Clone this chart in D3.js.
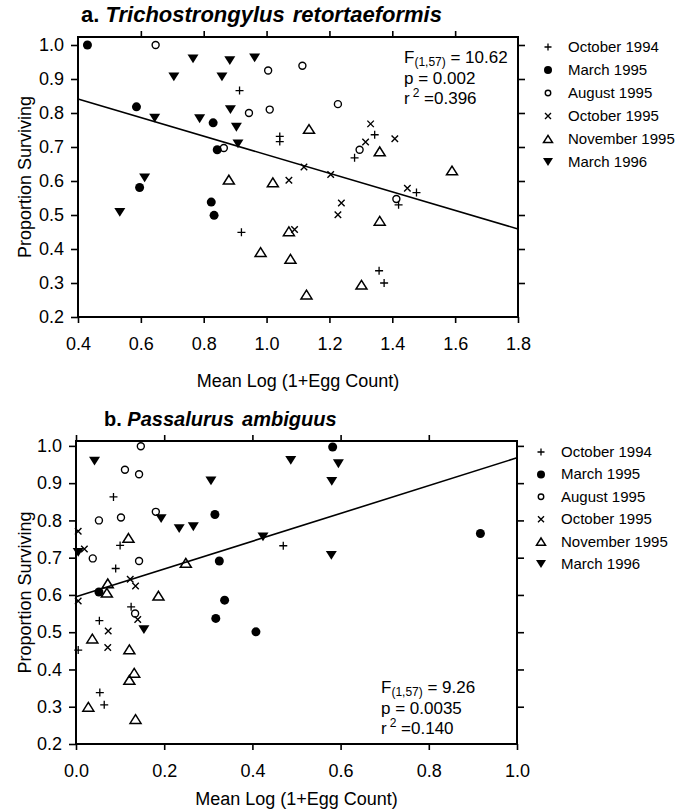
<!DOCTYPE html>
<html>
<head>
<meta charset="utf-8">
<script src="https://cdn.jsdelivr.net/npm/d3@7"></script>
<style>
  body { margin: 0; background: #fff; }
  svg { display: block; font-family: "Liberation Sans", Arial, sans-serif; }
</style>
</head>
<body>
<svg id="chart" width="690" height="809"></svg>
<script>
// ---- data: panel a (Trichostrongylus retortaeformis) ----
var aOct94 = [[0.914, 0.866], [1.042, 0.731], [1.042, 0.716], [1.344, 0.736], [1.28, 0.668],
    [1.477, 0.566], [1.42, 0.53], [0.92, 0.449], [1.358, 0.336], [1.374, 0.30]];
var aMar95 = [[0.43, 1.0], [0.586, 0.818], [0.83, 0.771], [0.843, 0.692], [0.596, 0.581],
    [0.824, 0.538], [0.833, 0.499]];
var aAug95 = [[0.647, 1.0], [1.005, 0.925], [1.114, 0.939], [0.944, 0.80], [1.01, 0.81],
    [1.227, 0.826], [0.864, 0.697], [1.296, 0.692], [1.413, 0.547]];
var aOct95 = [[1.331, 0.768], [1.315, 0.715], [1.408, 0.724], [1.119, 0.641], [1.204, 0.619],
    [1.071, 0.602], [1.448, 0.579], [1.238, 0.535], [1.227, 0.501], [1.089, 0.457]];
var aNov95 = [[1.135, 0.753], [1.36, 0.687], [1.59, 0.631], [0.88, 0.604], [1.02, 0.596],
    [0.981, 0.391], [1.071, 0.452], [1.076, 0.371], [1.36, 0.483], [1.302, 0.295], [1.127, 0.266]];
var aMar96 = [[0.766, 0.959], [0.883, 0.954], [0.962, 0.962], [0.705, 0.906], [0.858, 0.906],
    [0.644, 0.785], [0.787, 0.783], [0.885, 0.81], [0.904, 0.758], [0.909, 0.709],
    [0.612, 0.609], [0.533, 0.508]];
var aFit = [[0.4, 0.841], [1.8, 0.459]];
var aStats = ['10.62', '0.002', '0.396'];

// ---- data: panel b (Passalurus ambiguus) ----
var bOct94 = [[0.085, 0.863], [0.10, 0.733], [0.09, 0.671], [0.125, 0.568], [0.053, 0.531],
    [0.005, 0.452], [0.054, 0.338], [0.064, 0.305], [0.47, 0.732]];
var bMar95 = [[0.582, 0.997], [0.315, 0.816], [0.325, 0.691], [0.917, 0.765], [0.337, 0.586],
    [0.317, 0.537], [0.408, 0.501], [0.052, 0.608]];
var bAug95 = [[0.147, 0.999], [0.111, 0.936], [0.143, 0.924], [0.181, 0.823], [0.052, 0.80],
    [0.102, 0.808], [0.038, 0.698], [0.143, 0.691], [0.134, 0.55]];
var bOct95 = [[0.005, 0.771], [0.019, 0.723], [0.123, 0.642], [0.135, 0.624], [0.005, 0.584],
    [0.14, 0.534], [0.073, 0.503], [0.072, 0.459]];
var bNov95 = [[0.119, 0.753], [0.249, 0.686], [0.072, 0.631], [0.07, 0.606], [0.187, 0.598],
    [0.037, 0.483], [0.121, 0.454], [0.132, 0.391], [0.121, 0.372], [0.028, 0.30], [0.135, 0.267]];
var bMar96 = [[0.042, 0.959], [0.306, 0.906], [0.193, 0.805], [0.234, 0.778], [0.266, 0.783],
    [0.424, 0.756], [0.487, 0.961], [0.595, 0.952], [0.58, 0.905], [0.579, 0.706],
    [0.154, 0.507], [0.005, 0.714]];
var bFit = [[0.0, 0.595], [1.0, 0.968]];
var bStats = ['9.26', '0.0035', '0.140'];

var seriesNames = ['October 1994', 'March 1995', 'August 1995', 'October 1995', 'November 1995', 'March 1996'];
var yTicks = [0.2, 0.3, 0.4, 0.5, 0.6, 0.7, 0.8, 0.9, 1.0];
var aXTicks = [0.4, 0.6, 0.8, 1.0, 1.2, 1.4, 1.6, 1.8];
var bXTicks = [0.0, 0.2, 0.4, 0.6, 0.8, 1.0];

// custom marker shapes for d3.symbol; size = (full width)^2
var symPlus = {draw: function(c, size) {
    var r = Math.sqrt(size) / 2;
    c.moveTo(-r, 0); c.lineTo(r, 0);
    c.moveTo(0, -r); c.lineTo(0, r);
}};
var symX = {draw: function(c, size) {
    var r = Math.sqrt(size) / 2;
    c.moveTo(-r, -r); c.lineTo(r, r);
    c.moveTo(-r, r); c.lineTo(r, -r);
}};
var symTriUp = {draw: function(c, size) {
    var w = Math.sqrt(size) / 2, h = w * 0.8;
    c.moveTo(0, -h); c.lineTo(w, h); c.lineTo(-w, h); c.closePath();
}};
var symTriDown = {draw: function(c, size) {
    var w = Math.sqrt(size) / 2, h = w * 0.8;
    c.moveTo(-w, -h); c.lineTo(w, -h); c.lineTo(0, h); c.closePath();
}};

// marker style for each series, in legend order
var markers = [
    {type: symPlus, w: 8, lw: 7, fill: 'none', sw: 1.3},
    {type: d3.symbolCircle, w: 9, lw: 8, fill: '#000', sw: 0},
    {type: d3.symbolCircle, w: 7, lw: 5.5, fill: 'none', sw: 1.4},
    {type: symX, w: 6.5, lw: 6, fill: 'none', sw: 1.4},
    {type: symTriUp, w: 11, lw: 9, fill: 'none', sw: 1.5},
    {type: symTriDown, w: 11, lw: 10, fill: '#000', sw: 0}
];

function symSize(m, w) {
    // d3.symbolCircle uses area, the custom ones use width^2
    return m.type === d3.symbolCircle ? Math.PI * w * w / 4 : w * w;
}

function drawPanel(svg, p) {
    var x = d3.scaleLinear().domain(p.xDomain).range([p.left, p.right]);
    var y = d3.scaleLinear().domain(p.yDomain).range([p.bottom, p.top]);
    var g = svg.append('g');
    var fmt = d3.format('.1f');

    // frame
    g.append('rect')
        .attr('x', p.left).attr('y', p.top)
        .attr('width', p.right - p.left).attr('height', p.bottom - p.top)
        .attr('fill', 'none').attr('stroke', '#000').attr('stroke-width', 2);

    var axB = g.append('g').attr('transform', 'translate(0,' + p.bottom + ')')
        .call(d3.axisBottom(x).tickValues(p.xTicks).tickFormat(fmt).tickSize(6).tickSizeOuter(0).tickPadding(14));
    var axL = g.append('g').attr('transform', 'translate(' + p.left + ',0)')
        .call(d3.axisLeft(y).tickValues(yTicks).tickFormat(fmt).tickSize(7).tickSizeOuter(0).tickPadding(7));
    var axT = g.append('g').attr('transform', 'translate(0,' + p.top + ')')
        .call(d3.axisTop(x).tickValues(p.topTicks).tickFormat('').tickSize(6).tickSizeOuter(0));
    var axR = g.append('g').attr('transform', 'translate(' + p.right + ',0)')
        .call(d3.axisRight(y).tickValues(yTicks.slice(1)).tickFormat('').tickSize(7).tickSizeOuter(0));

    [axB, axL, axT, axR].forEach(function(a) {
        a.select('.domain').remove();
        a.selectAll('.tick line').attr('stroke', '#000').attr('stroke-width', 1.6);
        a.selectAll('.tick text').attr('fill', '#000').attr('font-size', 18);
    });

    // axis titles
    g.append('text')
        .attr('x', (p.left + p.right) / 2).attr('y', p.xTitleY)
        .attr('text-anchor', 'middle').attr('font-size', 18)
        .text('Mean Log (1+Egg Count)');
    g.append('text')
        .attr('transform', 'translate(31,' + ((p.top + p.bottom) / 2) + ') rotate(-90)')
        .attr('text-anchor', 'middle').attr('font-size', 18)
        .text('Proportion Surviving');

    // panel title
    var t = g.append('text')
        .attr('x', p.titleX).attr('y', p.top - 15)
        .attr('font-size', p.titleSize).attr('font-weight', 'bold');
    t.append('tspan').text(p.letter + '. ');
    t.append('tspan').attr('font-style', 'italic').text(p.genus);
    t.append('tspan').attr('font-style', 'italic').attr('dx', 8).text(p.species);

    // regression line
    g.append('path')
        .datum(p.fit)
        .attr('d', d3.line().x(function(d) { return x(d[0]); }).y(function(d) { return y(d[1]); }))
        .attr('fill', 'none').attr('stroke', '#000').attr('stroke-width', 1.6);

    // points
    p.series.forEach(function(pts, i) {
        var m = markers[i];
        g.selectAll(null)
            .data(pts)
          .enter().append('path')
            .attr('transform', function(d) { return 'translate(' + x(d[0]) + ',' + y(d[1]) + ')'; })
            .attr('d', d3.symbol().type(m.type).size(symSize(m, m.w)))
            .attr('fill', m.fill)
            .attr('stroke', m.sw ? '#000' : 'none')
            .attr('stroke-width', m.sw);
    });

    // statistics
    var s = g.append('g').attr('font-size', 17);
    var f = s.append('text').attr('x', p.statX).attr('y', p.statY);
    f.append('tspan').text('F');
    f.append('tspan').attr('font-size', 12).attr('dy', 3).text('(1,57)');
    f.append('tspan').attr('dy', -3).text(' = ' + p.stats[0]);
    s.append('text').attr('x', p.statX).attr('y', p.statY + 20.5).text('p = ' + p.stats[1]);
    var r = s.append('text').attr('x', p.statX).attr('y', p.statY + 41);
    r.append('tspan').text('r');
    r.append('tspan').attr('font-size', 12).attr('dx', 3).attr('dy', -7).text('2');
    r.append('tspan').attr('dy', 7).text(' =' + p.stats[2]);

    // legend
    var lg = g.append('g').attr('transform', 'translate(' + p.legendX + ',' + p.legendY + ')');
    seriesNames.forEach(function(name, i) {
        var m = markers[i];
        var row = lg.append('g').attr('transform', 'translate(0,' + (i * p.legendStep) + ')');
        row.append('path')
            .attr('transform', 'translate(0,-5)')
            .attr('d', d3.symbol().type(m.type).size(symSize(m, m.lw)))
            .attr('fill', m.fill)
            .attr('stroke', m.sw ? '#000' : 'none')
            .attr('stroke-width', m.sw);
        row.append('text').attr('x', 20).attr('font-size', 15).text(name);
    });
}

var svg = d3.select('#chart');

drawPanel(svg, {
    letter: 'a', genus: 'Trichostrongylus', species: 'retortaeformis',
    left: 78, right: 518, top: 37, bottom: 317,
    xDomain: [0.4, 1.8], yDomain: [0.2, 1.0235],
    xTicks: aXTicks, topTicks: aXTicks.slice(1, -1),
    series: [aOct94, aMar95, aAug95, aOct95, aNov95, aMar96],
    fit: aFit, stats: aStats, statX: 404, statY: 63, xTitleY: 387,
    titleX: 81, titleSize: 22, legendX: 548, legendY: 52, legendStep: 23
});

drawPanel(svg, {
    letter: 'b', genus: 'Passalurus', species: 'ambiguus',
    left: 76, right: 517, top: 441, bottom: 744,
    xDomain: [0.0, 1.0], yDomain: [0.2, 1.0131],
    xTicks: bXTicks, topTicks: bXTicks.slice(0, -1),
    series: [bOct94, bMar95, bAug95, bOct95, bNov95, bMar96],
    fit: bFit, stats: bStats, statX: 381, statY: 693, xTitleY: 805,
    titleX: 104, titleSize: 20, legendX: 541, legendY: 457, legendStep: 22.4
});
</script>
</body>
</html>
